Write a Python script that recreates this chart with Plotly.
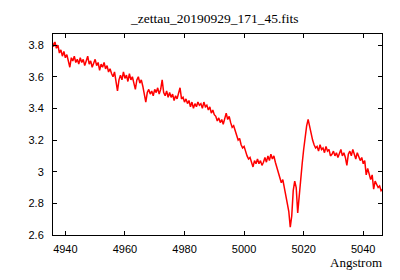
import plotly.graph_objects as go

wavelength = [
    4935.5, 4936.0, 4936.5, 4937.0, 4937.5, 4938.0, 4938.5, 4939.0, 4939.5, 4940.0,
    4940.5, 4941.0, 4941.5, 4942.0, 4942.5, 4943.0, 4943.5, 4944.0, 4944.5, 4945.0,
    4945.5, 4946.0, 4946.5, 4947.0, 4947.5, 4948.0, 4948.5, 4949.0, 4949.5, 4950.0,
    4950.5, 4951.0, 4951.5, 4952.0, 4952.5, 4953.0, 4953.5, 4954.0, 4954.5, 4955.0,
    4955.5, 4956.0, 4956.5, 4957.0, 4957.5, 4958.0, 4958.5, 4959.0, 4959.5, 4960.0,
    4960.5, 4961.0, 4961.5, 4962.0, 4962.5, 4963.0, 4963.5, 4964.0, 4964.5, 4965.0,
    4965.5, 4966.0, 4966.5, 4967.0, 4967.5, 4968.0, 4968.5, 4969.0, 4969.5, 4970.0,
    4970.5, 4971.0, 4971.5, 4972.0, 4972.5, 4973.0, 4973.5, 4974.0, 4974.5, 4975.0,
    4975.5, 4976.0, 4976.5, 4977.0, 4977.5, 4978.0, 4978.5, 4979.0, 4979.5, 4980.0,
    4980.5, 4981.0, 4981.5, 4982.0, 4982.5, 4983.0, 4983.5, 4984.0, 4984.5, 4985.0,
    4985.5, 4986.0, 4986.5, 4987.0, 4987.5, 4988.0, 4988.5, 4989.0, 4989.5, 4990.0,
    4990.5, 4991.0, 4991.5, 4992.0, 4992.5, 4993.0, 4993.5, 4994.0, 4994.5, 4995.0,
    4995.5, 4996.0, 4996.5, 4997.0, 4997.5, 4998.0, 4998.5, 4999.0, 4999.5, 5000.0,
    5000.5, 5001.0, 5001.5, 5002.0, 5002.5, 5003.0, 5003.5, 5004.0, 5004.5, 5005.0,
    5005.5, 5006.0, 5006.5, 5007.0, 5007.5, 5008.0, 5008.5, 5009.0, 5009.5, 5010.0,
    5010.5, 5011.0, 5011.5, 5012.0, 5012.5, 5013.0, 5013.5, 5014.0, 5014.5, 5015.0,
    5015.5, 5016.0, 5016.5, 5017.0, 5017.5, 5018.0, 5018.5, 5019.0, 5019.5, 5020.0,
    5020.5, 5021.0, 5021.5, 5022.0, 5022.5, 5023.0, 5023.5, 5024.0, 5024.5, 5025.0,
    5025.5, 5026.0, 5026.5, 5027.0, 5027.5, 5028.0, 5028.5, 5029.0, 5029.5, 5030.0,
    5030.5, 5031.0, 5031.5, 5032.0, 5032.5, 5033.0, 5033.5, 5034.0, 5034.5, 5035.0,
    5035.5, 5036.0, 5036.5, 5037.0, 5037.5, 5038.0, 5038.5, 5039.0, 5039.5, 5040.0,
    5040.5, 5041.0, 5041.5, 5042.0, 5042.5, 5043.0, 5043.5, 5044.0, 5044.5, 5045.0,
    5045.5, 5046.0, 5046.5,
]

flux = [
    3.83, 3.79, 3.82, 3.78, 3.80, 3.75, 3.77, 3.73, 3.76, 3.72,
    3.74, 3.69, 3.66, 3.72, 3.70, 3.73, 3.69, 3.71, 3.68, 3.72,
    3.69, 3.71, 3.67, 3.70, 3.73, 3.68, 3.70, 3.66, 3.69, 3.71,
    3.67, 3.69, 3.64, 3.68, 3.66, 3.69, 3.65, 3.67, 3.63, 3.65,
    3.62, 3.60, 3.63, 3.55, 3.51, 3.58, 3.61, 3.58, 3.63, 3.59,
    3.61, 3.57, 3.62, 3.58, 3.60, 3.56, 3.52, 3.58, 3.60, 3.56,
    3.58, 3.54, 3.50, 3.44, 3.50, 3.52, 3.49, 3.51, 3.48, 3.52,
    3.50, 3.53, 3.49, 3.52, 3.58, 3.50, 3.48, 3.51, 3.47, 3.50,
    3.47, 3.49, 3.45, 3.48, 3.46, 3.50, 3.53, 3.46, 3.47, 3.44,
    3.46, 3.43, 3.45, 3.41, 3.44, 3.40, 3.43, 3.41, 3.44, 3.42,
    3.43, 3.40, 3.44, 3.41, 3.42, 3.39, 3.41, 3.37, 3.39, 3.36,
    3.35, 3.32, 3.34, 3.31, 3.33, 3.30, 3.34, 3.37, 3.33, 3.35,
    3.31, 3.28, 3.29, 3.25, 3.23, 3.20, 3.21, 3.17, 3.15, 3.16,
    3.12, 3.10, 3.08, 3.09, 3.06, 3.03, 3.07, 3.05, 3.08, 3.05,
    3.07, 3.04, 3.06, 3.09, 3.06, 3.10, 3.07, 3.11, 3.08, 3.10,
    3.06, 3.03, 3.00, 2.97, 2.93, 2.95, 2.89, 2.85, 2.80, 2.75,
    2.65, 2.72, 2.88, 2.94, 2.90, 2.74, 2.86, 2.97, 3.05, 3.14,
    3.22, 3.29, 3.33, 3.28, 3.24, 3.20, 3.17, 3.15, 3.16, 3.13,
    3.17, 3.14, 3.15, 3.12, 3.16, 3.13, 3.14, 3.10, 3.11, 3.13,
    3.10, 3.12, 3.09, 3.11, 3.14, 3.10, 3.12, 3.09, 3.04, 3.11,
    3.13, 3.10, 3.14, 3.11, 3.08, 3.12, 3.09, 3.07, 3.09, 3.05,
    3.07, 2.98, 3.02, 2.99, 2.95, 2.98, 2.89, 2.94, 2.92, 2.90,
    2.91, 2.88, 2.89,
]

x_ticks = [4940, 4960, 4980, 5000, 5020, 5040]
x_tick_labels = ["4940", "4960", "4980", "5000", "5020", "5040"]
y_ticks = [2.6, 2.8, 3.0, 3.2, 3.4, 3.6, 3.8]
y_tick_labels = ["2.6", "2.8", "3", "3.2", "3.4", "3.6", "3.8"]

title_text = "_zettau_20190929_171_45.fits"
x_label = "Angstrom"

fig = go.Figure()
fig.add_trace(go.Scatter(
    x=wavelength, y=flux, mode="lines",
    line=dict(color="#ff0000", width=1.5),
    hoverinfo="skip", showlegend=False,
))

tickfont = dict(family="Liberation Sans, Arial, sans-serif", size=11, color="#000000")
axis_common = dict(
    showgrid=False, zeroline=False, showline=True, linecolor="#000000", linewidth=1,
    mirror="ticks", ticks="inside", ticklen=4, tickcolor="#000000", tickwidth=1,
    tickfont=tickfont, automargin=False,
)
serif = "Liberation Serif, Times New Roman, serif"

fig.update_layout(
    width=400, height=280,
    margin=dict(l=45, r=26, t=26, b=53, autoexpand=False),
    paper_bgcolor="white", plot_bgcolor="white",
    xaxis=dict(range=[4935.85, 5046.3], tickvals=x_ticks, ticktext=x_tick_labels,
               ticklabelstandoff=4, **axis_common),
    yaxis=dict(range=[2.6, 3.87], tickvals=y_ticks, ticktext=y_tick_labels,
               ticklabelstandoff=6, **axis_common),
    annotations=[
        dict(text=title_text, xref="paper", yref="paper", x=0.492, y=1.075,
             xanchor="center", yanchor="middle", showarrow=False,
             font=dict(family=serif, size=13.5, color="#000000")),
        dict(text=x_label, xref="paper", yref="paper", x=1, y=-0.138,
             xanchor="right", yanchor="middle", xshift=2, showarrow=False,
             font=dict(family=serif, size=13, color="#000000")),
    ],
)

fig.write_html("out.html")
